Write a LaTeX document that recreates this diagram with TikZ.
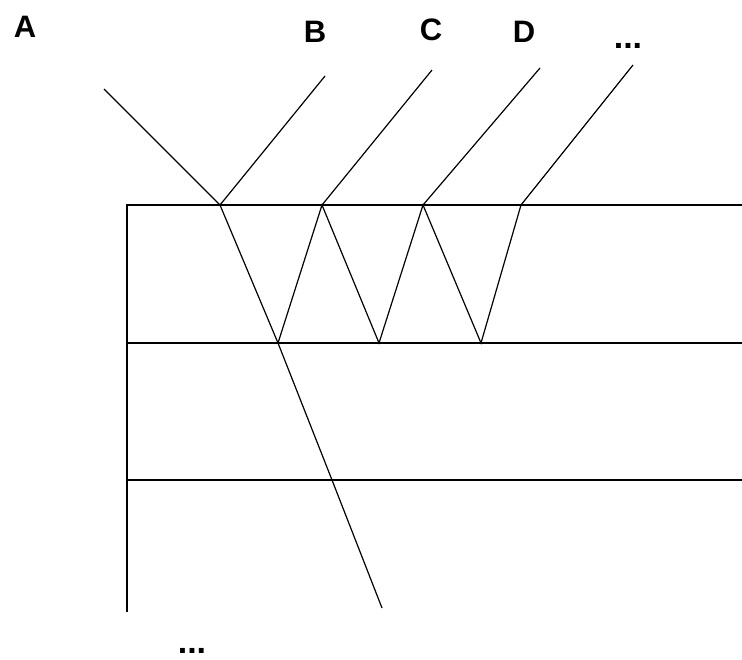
\documentclass[tikz,border=0pt]{standalone}
\usepackage{fontspec}
\setmainfont{Liberation Sans}
\begin{document}
\begin{tikzpicture}[x=1pt,y=-1pt,
  ray/.style={line width=1.2pt},
  layer/.style={line width=1.6pt},
  lbl/.style={font=\bfseries\fontsize{31}{34}\selectfont, inner sep=0pt, anchor=base},
  dots/.style={font=\bfseries\fontsize{34}{36}\selectfont, inner sep=0pt, anchor=base}]
\useasboundingbox (0,0) rectangle (742,659);
% layer boundaries
\coordinate (L1a) at (127,205); \coordinate (L1b) at (742,205);
\coordinate (L2a) at (127,343); \coordinate (L2b) at (742,343);
\coordinate (L3a) at (127,480); \coordinate (L3b) at (742,480);
\coordinate (Vb) at (127,612);
\draw[layer] (Vb) -- (L1a) -- (L1b);
\draw[layer] (L2a) -- (L2b);
\draw[layer] (L3a) -- (L3b);
% points on interfaces
\coordinate (P0) at (220,205);
\coordinate (P1) at (322,205);
\coordinate (P2) at (423,205);
\coordinate (P3) at (521,205);
\coordinate (Q0) at (278,343);
\coordinate (Q1) at (379,343);
\coordinate (Q2) at (481,343);
\coordinate (R0) at (332,480);
\coordinate (S0) at (382,608);
% ray ends
\coordinate (Astart) at (104,89);
\coordinate (Bend) at (325,76);
\coordinate (Cend) at (432,70);
\coordinate (Dend) at (540,68);
\coordinate (Eend) at (633,65);
% rays
\draw[ray] (Astart) -- (P0) -- (Q0) -- (R0) -- (S0);
\draw[ray] (P0) -- (Bend);
\draw[ray] (Q0) -- (P1) -- (Q1) -- (P2) -- (Q2) -- (P3) -- (Eend);
\draw[ray] (P1) -- (Cend);
\draw[ray] (P2) -- (Dend);
% labels
\node[lbl] (A) at (25,37) {A};
\node[lbl] (B) at (315,42) {B};
\node[lbl] (C) at (431,40) {C};
\node[lbl] (D) at (524,42) {D};
\node[dots] (E) at (628,48) {...};
\node[dots] (F) at (192,653) {...};
\end{tikzpicture}
\end{document}
